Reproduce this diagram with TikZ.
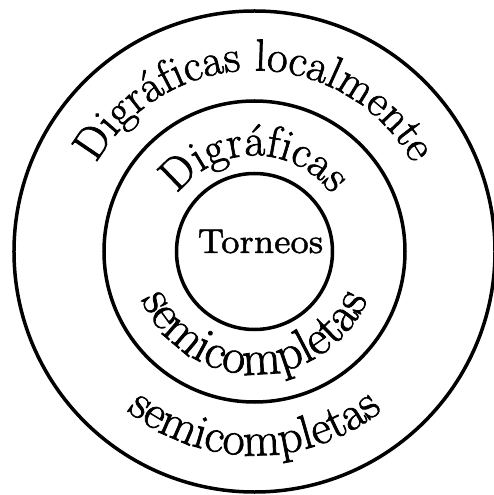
\documentclass[tikz,border=0pt]{standalone}
\usetikzlibrary{decorations.text}
\font\torfont="[lmroman8-regular]:embolden=1.2" at 34.5pt
\font\ringtop="[lmroman17-regular]:embolden=1.5" at 45pt
\font\ringmid="[lmroman17-regular]:embolden=1.5" at 50pt
\font\ringbot="[lmroman17-regular]:embolden=1.5" at 48pt
\tikzset{
  ring/.style={line width=3.5pt},
  ringtext/.style={decorate, decoration={text along path, text align=center, text={#1}}},
}
\begin{document}
\begin{tikzpicture}
\useasboundingbox (-254.5pt,-243.5pt) rectangle (238.5pt,251.5pt);
\draw[ring] (0,0) circle[radius=240.5pt];
\draw[ring] (0,0) circle[radius=150.5pt];
\draw[ring] (0,0) circle[radius=78pt];
\node[anchor=base, inner sep=0pt, font=\torfont] (tor) at (6pt,-1.5pt) {Torneos};
\path[ringtext={|\ringtop|Digráficas localmente}] (180:181pt) arc[start angle=180, end angle=0, radius=181pt];
\path[ringtext={|\ringtop|Digráficas}] (180:96pt) arc[start angle=180, end angle=0, radius=96pt];
\path[ringtext={|\ringmid|semicompletas}] (180:123pt) arc[start angle=180, end angle=360, radius=123pt];
\path[ringtext={|\ringbot|semicompletas}] (180:204pt) arc[start angle=180, end angle=360, radius=204pt];
\end{tikzpicture}
\end{document}
